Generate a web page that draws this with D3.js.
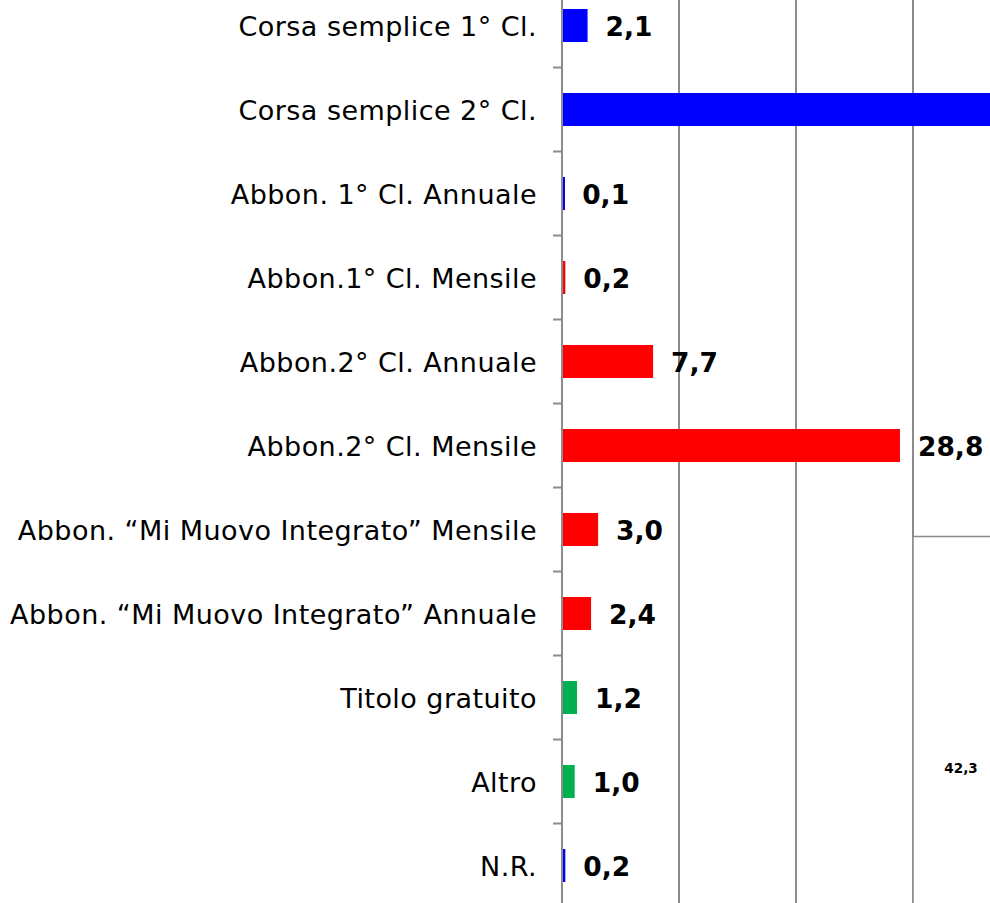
<!DOCTYPE html>
<html>
<head>
<meta charset="utf-8">
<script src="https://cdn.jsdelivr.net/npm/d3@7/dist/d3.min.js"></script>
<style>
  html, body { margin: 0; padding: 0; background: #fff; }
  svg { display: block; }
  text { font-family: "DejaVu Sans", Verdana, sans-serif; }
</style>
</head>
<body>
<script>
// Ticket types and share of respondents (%)
const categories = [
  "Corsa semplice 1° Cl.",
  "Corsa semplice 2° Cl.",
  "Abbon. 1° Cl. Annuale",
  "Abbon.1° Cl. Mensile",
  "Abbon.2° Cl. Annuale",
  "Abbon.2° Cl. Mensile",
  "Abbon. “Mi Muovo Integrato” Mensile",
  "Abbon. “Mi Muovo Integrato” Annuale",
  "Titolo gratuito",
  "Altro",
  "N.R."
];
const values = [2.1, 42.3, 0.1, 0.2, 7.7, 28.8, 3.0, 2.4, 1.2, 1.0, 0.2];
const groups = ["a", "a", "a", "b", "b", "b", "b", "b", "c", "c", "a"];
const gridTicks = [10, 20, 30, 40];

const W = 990, H = 903;
const colour = d3.scaleOrdinal()
  .domain(["a", "b", "c"])
  .range(["#0000ff", "#ff0000", "#00b050"]);

const fmt = v => d3.format(".1f")(v).replace(".", ",");

const svg = d3.select("body").append("svg")
  .attr("width", W).attr("height", H);

const x = d3.scaleLinear().domain([0, 50]).range([562, 562 + 585]);
const y = d3.scaleBand().domain(categories)
  .range([-16.5, 907.5])
  .paddingInner(0.607).paddingOuter(0.3035);

// vertical gridlines
svg.append("g").selectAll("line").data(gridTicks).join("line")
  .attr("x1", d => x(d)).attr("x2", d => x(d))
  .attr("y1", 0).attr("y2", H)
  .attr("stroke", "#8c8c8c").attr("stroke-width", 2);

// category axis with ticks between bands
const axisX = x(0);
svg.append("line")
  .attr("x1", axisX).attr("x2", axisX).attr("y1", 0).attr("y2", H)
  .attr("stroke", "#8c8c8c").attr("stroke-width", 2);
const boundaries = d3.range(categories.length + 1).map(i => -16.5 + i * y.step());
svg.append("g").selectAll("line").data(boundaries).join("line")
  .attr("x1", axisX - 9).attr("x2", axisX)
  .attr("y1", d => d).attr("y2", d => d)
  .attr("stroke", "#8c8c8c").attr("stroke-width", 2);

// bars, drawn over the axis line so the thinnest ones stay visible
svg.append("g").selectAll("rect").data(categories).join("rect")
  .attr("x", x(0) + 1)
  .attr("y", d => y(d))
  .attr("width", (d, i) => Math.max(x(values[i]) - x(0), 2))
  .attr("height", y.bandwidth())
  .attr("fill", (d, i) => colour(groups[i]));

svg.append("g").selectAll("text").data(categories).join("text")
  .attr("x", 537)
  .attr("y", d => y(d) + y.bandwidth() / 2)
  .attr("dy", "0.4em")
  .attr("text-anchor", "end")
  .attr("font-size", 27)
  .attr("letter-spacing", 0.45)
  .attr("fill", "#000")
  .text(d => d);

// value labels (the off-scale bar's label sits in the note box)
const big = values.map((v, i) => ({ v, i })).filter(d => x(d.v) < W);
svg.append("g").selectAll("text").data(big).join("text")
  .attr("x", d => x(d.v) + 19)
  .attr("y", d => y(categories[d.i]) + y.bandwidth() / 2)
  .attr("dy", "0.4em")
  .attr("font-size", 26.5)
  .attr("font-weight", "bold")
  .attr("fill", "#000")
  .text(d => fmt(d.v));

// note box with the value of the off-scale bar
svg.append("rect")
  .attr("x", x(30)).attr("y", 536.5)
  .attr("width", 200).attr("height", 500)
  .attr("fill", "#fff").attr("stroke", "#8c8c8c").attr("stroke-width", 1.5);
const offScale = values.map((v, i) => ({ v, i })).filter(d => x(d.v) >= W);
svg.append("g").selectAll("text").data(offScale).join("text")
  .attr("x", 961).attr("y", 768)
  .attr("dy", "0.36em")
  .attr("text-anchor", "middle")
  .attr("font-size", 13.5)
  .attr("font-weight", "bold")
  .attr("fill", "#000")
  .text(d => fmt(d.v));
</script>
</body>
</html>
